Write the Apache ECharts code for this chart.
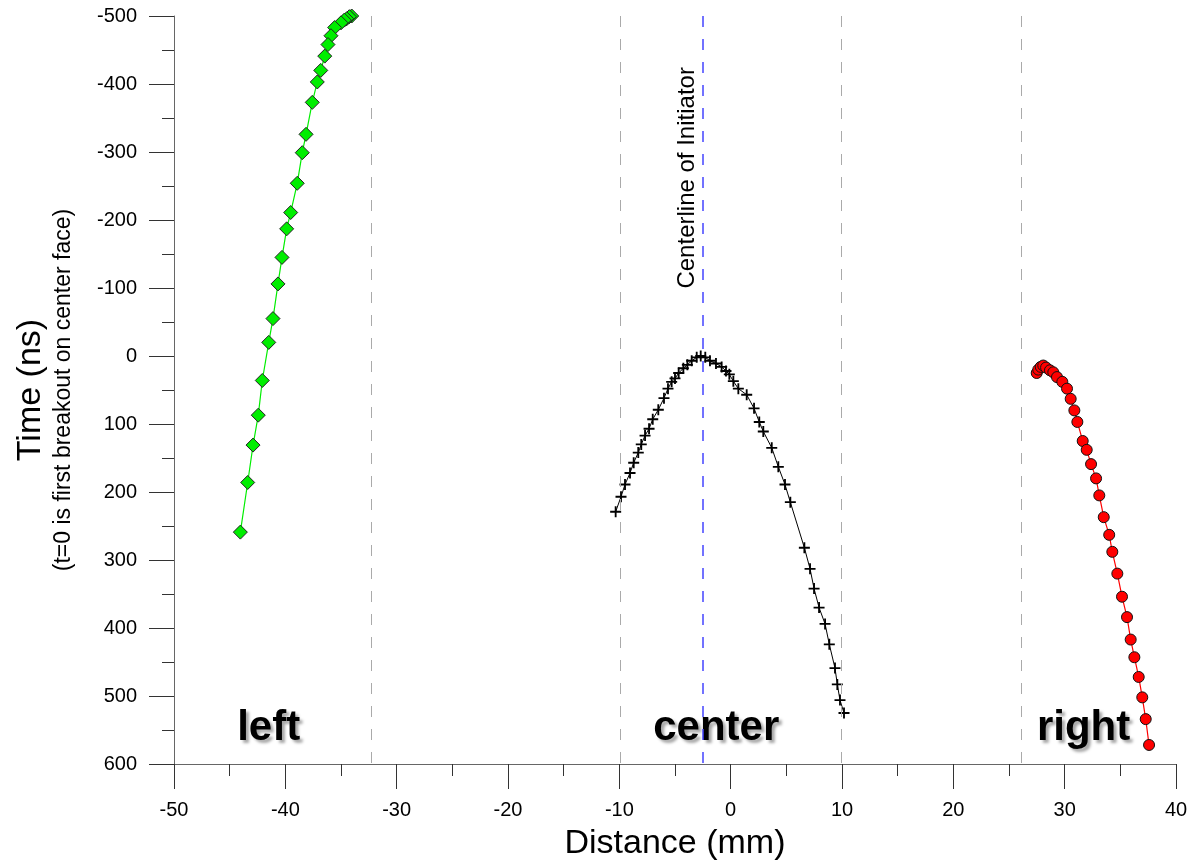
<!DOCTYPE html>
<html>
<head>
<meta charset="utf-8">
<script src="https://cdn.jsdelivr.net/npm/echarts@6/dist/echarts.min.js"></script>
<style>
html,body{margin:0;padding:0;background:#fff;}
#main{width:1195px;height:862px;}
</style>
</head>
<body>
<div id="main"></div>
<script>
// ---- Data (Distance mm, Time ns) ----
const leftX = [-34.04,-34.25,-34.49,-34.70,-35.00,-35.57,-35.90,-36.17,-36.46,-36.82,-37.13,-37.58,-38.14,-38.48,-38.93,-39.52,-39.88,-40.30,-40.66,-41.11,-41.49,-42.07,-42.43,-42.90,-43.38,-44.04];
const leftY = [-500,-499,-496,-494,-490,-483,-471,-458,-441,-420,-403,-373,-326,-299,-254,-211,-187,-145,-106,-55,-20,36,87,131,186,259];

const centerX = [-10.33,-9.85,-9.49,-9.04,-8.71,-8.30,-8.03,-7.69,-7.33,-7.00,-6.50,-5.99,-5.63,-5.30,-5.00,-4.67,-4.25,-3.89,-3.50,-3.05,-2.69,-2.28,-1.86,-1.32,-0.81,-0.42,-0.12,0.24,0.69,1.44,2.10,2.57,2.93,3.69,4.28,4.88,5.36,6.62,7.13,7.49,7.94,8.48,8.86,9.37,9.58,9.82,10.18];
const centerY = [229,207,189,172,157,142,130,117,107,93,79,62,48,38,33,25,18,13,7,2,0,2,7,11,16,22,27,37,48,57,77,97,111,135,163,189,215,282,313,342,370,394,424,459,483,506,525];

const rightX = [27.49,27.63,27.85,28.08,28.33,28.68,28.98,29.31,29.79,30.21,30.54,30.87,31.14,31.62,31.98,32.37,32.82,33.11,33.51,34.00,34.28,34.73,35.15,35.60,35.93,36.26,36.65,36.97,37.28,37.58];
const rightY = [25,20,16,14,17,21,24,31,38,48,63,80,97,125,138,159,180,205,237,263,288,320,354,384,417,443,472,502,534,572];

const grayLines = [-32.3,-9.94,9.91,26.08];
const centerline = -2.48;

const regionNames = ['left','center','right'];
const regionX = [-41.5,-1.3,31.7];
const regionY = [547,547,547];

const centerlineText = 'Centerline of Initiator';
const centerlineTextPos = [-3.85,-262];

const xTicks = {min:-50,max:40,interval:10};
const yTicks = {min:-500,max:600,interval:100};

// ---- Chart ----
const zip = (xs, ys) => xs.map((x, i) => [x, ys[i]]);
const FONT = '"Liberation Sans", Arial, sans-serif';
const plus = 'path://M-1,-6H1V-1H6V1H1V6H-1V1H-6V-1H-1Z';

const chart = echarts.init(document.getElementById('main'), null, {renderer:'canvas'});
chart.setOption({
  animation: false,
  backgroundColor: '#fff',
  textStyle: {fontFamily: FONT},
  grid: {left:174, right:19, top:16, bottom:98, containLabel:false, outerBoundsMode:'none'},
  xAxis: {
    type:'value', min:xTicks.min, max:xTicks.max, interval:xTicks.interval,
    name:'Distance (mm)', nameLocation:'middle', nameGap:63,
    nameTextStyle:{fontSize:34, color:'#000', fontFamily:FONT},
    axisLine:{show:true, onZero:false, lineStyle:{color:'#666', width:1}},
    axisTick:{show:true, length:25, lineStyle:{color:'#333'}},
    minorTick:{show:true, splitNumber:2, length:12, lineStyle:{color:'#333'}},
    splitLine:{show:false},
    axisLabel:{fontSize:20, color:'#000', margin:36, fontFamily:FONT}
  },
  yAxis: {
    type:'value', inverse:true, min:yTicks.min, max:yTicks.max, interval:yTicks.interval,
    name:'{a|Time (ns)}\n{b|(t=0 is first breakout on center face)}',
    nameLocation:'middle', nameGap:96, nameRotate:90,
    nameTextStyle:{
      color:'#000', fontFamily:FONT,
      rich:{
        a:{fontSize:34, lineHeight:38, fontFamily:FONT, color:'#000'},
        b:{fontSize:23, lineHeight:28, fontFamily:FONT, color:'#000'}
      }
    },
    axisLine:{show:true, onZero:false, lineStyle:{color:'#666', width:1}},
    axisTick:{show:true, length:25, lineStyle:{color:'#333'}},
    minorTick:{show:true, splitNumber:2, length:12, lineStyle:{color:'#333'}},
    splitLine:{show:false},
    axisLabel:{fontSize:20, color:'#000', margin:37, fontFamily:FONT}
  },
  series: [
    {
      name:'grayGuides', type:'line', data:[], silent:true,
      markLine:{
        silent:true, symbol:'none', animation:false,
        label:{show:false},
        lineStyle:{color:'#aaaaaa', type:[11,12], width:1},
        data: grayLines.map(v => ({xAxis:v}))
      }
    },
    {
      name:'blueGuide', type:'line', data:[], silent:true,
      color:'#4444ff',
      markLine:{
        silent:true, symbol:'none', animation:false,
        label:{show:false},
        lineStyle:{color:'#4444ff', type:[11,12], width:1.5, opacity:1},
        data: [{xAxis:centerline}]
      }
    },
    {
      name:'left', type:'line', data:zip(leftX,leftY),
      lineStyle:{color:'#00ee00', width:1.2},
      symbol:'diamond', symbolSize:14,
      itemStyle:{color:'#00ee00', borderColor:'#222', borderWidth:1}
    },
    {
      name:'center', type:'line', data:zip(centerX,centerY),
      lineStyle:{color:'#000', width:1},
      symbol:plus, symbolSize:11,
      itemStyle:{color:'#000', borderWidth:0}
    },
    {
      name:'right', type:'line', data:zip(rightX,rightY),
      lineStyle:{color:'#ff0000', width:1.2},
      symbol:'circle', symbolSize:11,
      itemStyle:{color:'#ff0000', borderColor:'#111', borderWidth:1}
    },
    {
      name:'regionLabels', type:'scatter', symbolSize:0, silent:true,
      itemStyle:{color:'#000', opacity:1},
      data: regionNames.map((n,i) => ({name:n, value:[regionX[i], regionY[i]]})),
      label:{
        show:true, position:'inside', formatter:'{b}', opacity:1,
        fontSize:42, fontWeight:'bold', color:'#000', fontFamily:FONT,
        textBorderWidth:0,
        textShadowColor:'rgba(0,0,0,0.35)', textShadowBlur:3,
        textShadowOffsetX:3, textShadowOffsetY:3
      }
    },
    {
      name:'centerlineLabel', type:'scatter', symbolSize:0, silent:true,
      itemStyle:{color:'#000', opacity:1},
      data:[{name:centerlineText, value:centerlineTextPos}],
      label:{
        show:true, position:'inside', formatter:'{b}', rotate:90, opacity:1,
        fontSize:24, color:'#000', fontFamily:FONT, textBorderWidth:0
      }
    }
  ]
});
</script>
</body>
</html>
